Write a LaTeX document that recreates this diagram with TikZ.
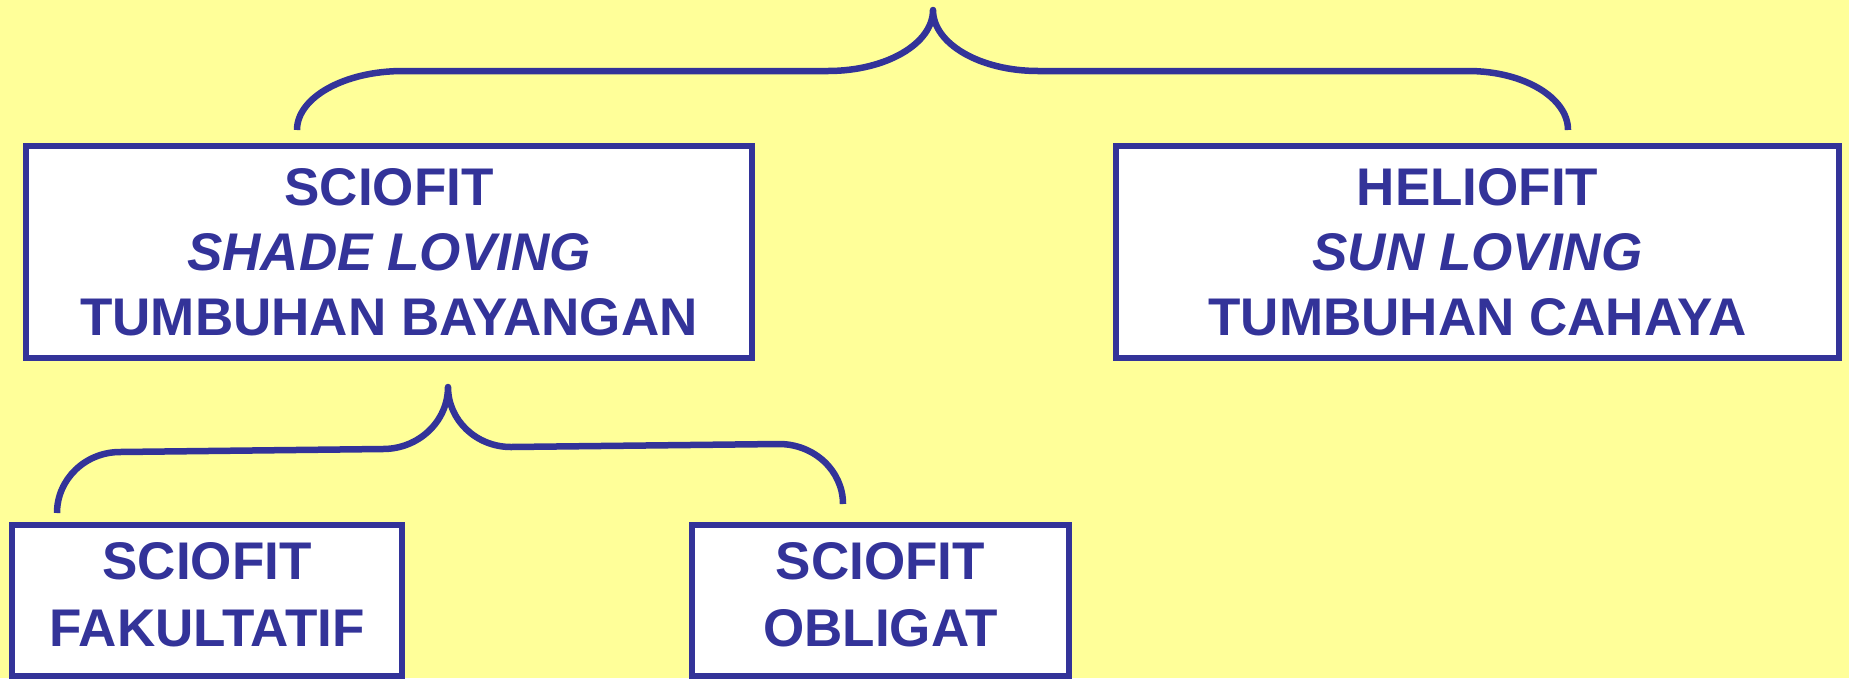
\documentclass[tikz,border=0pt]{standalone}
\usepackage{fontspec}
\setmainfont{Liberation Sans}
\definecolor{bgyellow}{RGB}{255,255,153}
\definecolor{inkblue}{RGB}{51,51,153}
\begin{document}
\begin{tikzpicture}[x=1pt,y=-1pt,
  box/.style={draw=inkblue,fill=white,line width=6pt,rectangle,inner sep=0pt,
    text=inkblue,align=center,font=\fontsize{53}{65}\selectfont\bfseries},
  brace/.style={draw=inkblue,line width=6.5pt,line join=round,line cap=butt}]
\fill[bgyellow] (0,0) rectangle (1849,678);
\useasboundingbox (0,0) rectangle (1849,678);
% boxes
\node[box,minimum width=726pt,minimum height=212pt] (scio) at (389,252)
  {SCIOFIT\\ \textit{SHADE LOVING}\\ TUMBUHAN BAYANGAN};
\node[box,minimum width=723pt,minimum height=212pt] (helio) at (1477.5,252)
  {HELIOFIT\\ \textit{SUN LOVING}\\ TUMBUHAN CAHAYA};
\node[box,minimum width=390pt,minimum height=151pt] (fak) at (207,600)
  {\raisebox{-6pt}{\begin{tabular}{@{}c@{}}SCIOFIT\\[1.5pt] FAKULTATIF\end{tabular}}};
\node[box,minimum width=377pt,minimum height=151pt] (obl) at (880.5,600)
  {\raisebox{-6pt}{\begin{tabular}{@{}c@{}}SCIOFIT\\[1.5pt] OBLIGAT\end{tabular}}};
% brace end points
\coordinate (tbl) at (297,130);
\coordinate (tbt) at (933,10);
\coordinate (tbr) at (1568,130);
\coordinate (sbl) at (57,513);
\coordinate (sbt) at (448,387);
\coordinate (sbr) at (843,504);
% top brace
\draw[brace] (tbl) .. controls (297,97.4) and (344.5,71) .. (403,71)
  -- (828,71) .. controls (886,71) and (933,43.7) .. (tbt)
  .. controls (933,43.7) and (980,71) .. (1038,71)
  -- (1468,71) .. controls (1523.2,71) and (1568,97.4) .. (tbr);
% second brace
\draw[brace] (sbl) .. controls (57,479.3) and (85.2,452) .. (120,452)
  -- (383,449) .. controls (418.9,449) and (448,421.2) .. (sbt)
  .. controls (448,420.1) and (476.2,447) .. (511,447)
  -- (779,444) .. controls (814.3,444) and (843,470.9) .. (sbr);
\end{tikzpicture}
\end{document}
